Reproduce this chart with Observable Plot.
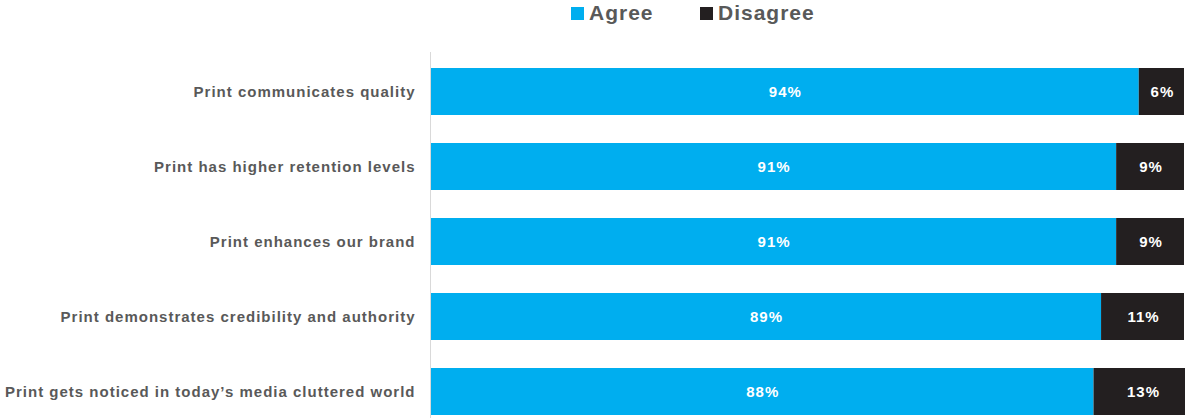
<!DOCTYPE html>
<html>
<head>
<meta charset="utf-8">
<script src="https://cdn.jsdelivr.net/npm/d3@7"></script>
<script src="https://cdn.jsdelivr.net/npm/@observablehq/plot@0.6"></script>
<style>
  html, body { margin: 0; padding: 0; background: #fff; }
  body { width: 1185px; height: 418px; overflow: hidden; font-family: "Liberation Sans", Arial, sans-serif; }
  #legend { height: 30px; position: relative; }
  .item { position: absolute; top: 1px; display: flex; align-items: center; font-weight: bold; font-size: 21px; letter-spacing: 1px; color: #595959; }
  .sw { width: 13px; height: 13px; margin-right: 5px; }
  #chart svg { display: block; }
</style>
</head>
<body>
<div id="legend"></div>
<div id="chart"></div>
<script>
const statements = [
  "Print communicates quality",
  "Print has higher retention levels",
  "Print enhances our brand",
  "Print demonstrates credibility and authority",
  "Print gets noticed in today’s media cluttered world"
];
const agree = [94, 91, 91, 89, 88];
const disagree = [6, 9, 9, 11, 13];
const seriesNames = ["Agree", "Disagree"];
const seriesColors = ["#00AEEF", "#231F20"];

const rows = [];
statements.forEach((s, i) => {
  rows.push({statement: s, series: "Agree", value: agree[i], x1: 0, x2: agree[i]});
  rows.push({statement: s, series: "Disagree", value: disagree[i], x1: agree[i], x2: agree[i] + disagree[i]});
});

// legend
const legend = document.getElementById("legend");
const legendX = [571, 700];
seriesNames.forEach((n, i) => {
  const d = document.createElement("div");
  d.className = "item";
  d.style.left = legendX[i] + "px";
  d.innerHTML = `<span class="sw" style="background:${seriesColors[i]}"></span><span>${n}</span>`;
  legend.appendChild(d);
});

const chart = Plot.plot({
  width: 1185,
  height: 388,
  marginLeft: 430,
  marginRight: 1,
  marginTop: 22,
  marginBottom: 0,
  style: {fontFamily: "'Liberation Sans', Arial, sans-serif", background: "#fff"},
  x: {domain: [0, 100], axis: null},
  y: {domain: statements, range: [36, 387], paddingInner: 0.38, paddingOuter: 0, label: null},
  color: {domain: seriesNames, range: seriesColors},
  marks: [
    Plot.barX(rows, {y: "statement", x1: "x1", x2: "x2", fill: "series"}),
    Plot.ruleX([0], {stroke: "#d9d9d9", strokeWidth: 1}),
    Plot.text(rows, {
      y: "statement",
      x: d => (d.x1 + d.x2) / 2,
      text: d => d.value + "%",
      fill: "#ffffff",
      fontWeight: "bold",
      fontSize: 15,
      dx: 0.5
    }),
    Plot.axisY({
      tickSize: 0,
      tickPadding: 15,
      fontSize: 15,
      fontWeight: "bold",
      fill: "#595959",
      label: null
    })
  ]
});
chart.querySelectorAll('[aria-label="y-axis tick label"] text').forEach(t => t.setAttribute("fill", "#595959"));
chart.querySelectorAll('text').forEach(t => t.style.letterSpacing = "1px");
chart.querySelectorAll('[aria-label="y-axis tick label"]').forEach(g => g.setAttribute("fill", "#595959"));
document.getElementById("chart").appendChild(chart);
</script>
</body>
</html>
